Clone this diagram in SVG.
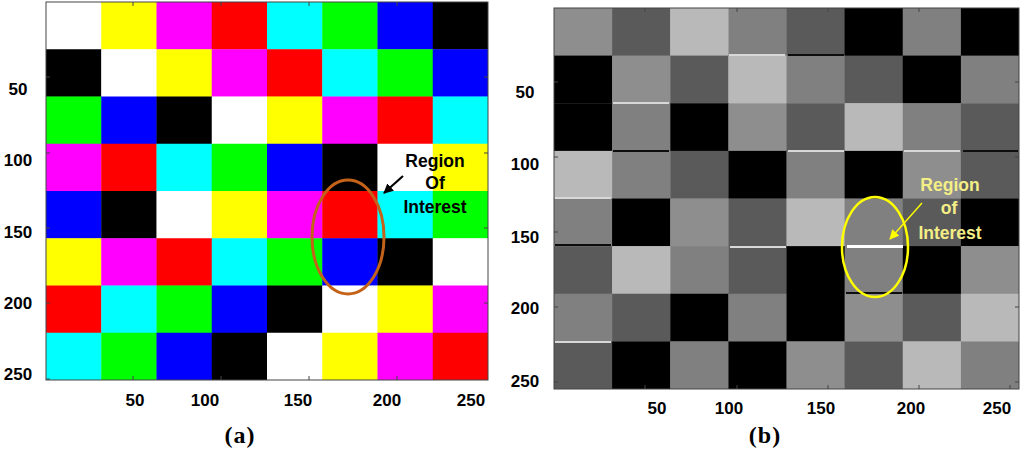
<svg xmlns="http://www.w3.org/2000/svg" width="1024" height="450" viewBox="0 0 1024 450">
<style>
.W{fill:#ffffff}.Y{fill:#ffff00}.M{fill:#ff00ff}.R{fill:#ff0000}.C{fill:#00ffff}.G{fill:#00ff00}.B{fill:#0000ff}.K{fill:#000000}
.gw{fill:#8e8e8e}.gy{fill:#5a5a5a}.gm{fill:#b9b9b9}.gr{fill:#808080}.gk{fill:#000000}
.ax{font-family:"Liberation Sans",Arial,sans-serif;font-weight:bold;font-size:17px;fill:#000;text-anchor:middle}
.cap{font-family:"Liberation Serif","Times New Roman",serif;font-weight:bold;font-size:24px;letter-spacing:1px;fill:#000;text-anchor:middle}
.roiA{font-family:"Liberation Sans",Arial,sans-serif;font-weight:bold;font-size:17.5px;fill:#000;text-anchor:middle}
.roiB{font-family:"Liberation Sans",Arial,sans-serif;font-weight:bold;font-size:17.5px;fill:#f3ee86;text-anchor:middle}
.frame{fill:none;stroke:#444;stroke-width:1}
.tick{stroke:#444;stroke-width:1;fill:none}
</style>
<defs>
<marker id="ahK" viewBox="0 0 10 10" refX="9" refY="5" markerWidth="4.5" markerHeight="4.5" orient="auto" markerUnits="strokeWidth"><path d="M0,0 L10,5 L0,10 z" fill="#000"/></marker>
<marker id="ahY" viewBox="0 0 10 10" refX="9" refY="5" markerWidth="7" markerHeight="7" orient="auto" markerUnits="strokeWidth"><path d="M0,0 L10,5 L0,10 z" fill="#ffff00"/></marker>
<filter id="soft" x="-1%" y="-1%" width="102%" height="102%"><feGaussianBlur stdDeviation="0.7"/></filter>
</defs>
<rect width="1024" height="450" fill="#fff"/>

<g id="panel-a">
<g id="grid-a">
<rect class="W" x="46" y="2" width="55.6" height="47.6"/><rect class="Y" x="101.25" y="2" width="55.6" height="47.6"/><rect class="M" x="156.5" y="2" width="55.6" height="47.6"/><rect class="R" x="211.75" y="2" width="55.6" height="47.6"/><rect class="C" x="267" y="2" width="55.6" height="47.6"/><rect class="G" x="322.25" y="2" width="55.6" height="47.6"/><rect class="B" x="377.5" y="2" width="55.6" height="47.6"/><rect class="K" x="432.75" y="2" width="55.25" height="47.6"/>
<rect class="K" x="46" y="49.25" width="55.6" height="47.6"/><rect class="W" x="101.25" y="49.25" width="55.6" height="47.6"/><rect class="Y" x="156.5" y="49.25" width="55.6" height="47.6"/><rect class="M" x="211.75" y="49.25" width="55.6" height="47.6"/><rect class="R" x="267" y="49.25" width="55.6" height="47.6"/><rect class="C" x="322.25" y="49.25" width="55.6" height="47.6"/><rect class="G" x="377.5" y="49.25" width="55.6" height="47.6"/><rect class="B" x="432.75" y="49.25" width="55.25" height="47.6"/>
<rect class="G" x="46" y="96.5" width="55.6" height="47.6"/><rect class="B" x="101.25" y="96.5" width="55.6" height="47.6"/><rect class="K" x="156.5" y="96.5" width="55.6" height="47.6"/><rect class="W" x="211.75" y="96.5" width="55.6" height="47.6"/><rect class="Y" x="267" y="96.5" width="55.6" height="47.6"/><rect class="M" x="322.25" y="96.5" width="55.6" height="47.6"/><rect class="R" x="377.5" y="96.5" width="55.6" height="47.6"/><rect class="C" x="432.75" y="96.5" width="55.25" height="47.6"/>
<rect class="M" x="46" y="143.75" width="55.6" height="47.6"/><rect class="R" x="101.25" y="143.75" width="55.6" height="47.6"/><rect class="C" x="156.5" y="143.75" width="55.6" height="47.6"/><rect class="G" x="211.75" y="143.75" width="55.6" height="47.6"/><rect class="B" x="267" y="143.75" width="55.6" height="47.6"/><rect class="K" x="322.25" y="143.75" width="55.6" height="47.6"/><rect class="W" x="377.5" y="143.75" width="55.6" height="47.6"/><rect class="Y" x="432.75" y="143.75" width="55.25" height="47.6"/>
<rect class="B" x="46" y="191" width="55.6" height="47.6"/><rect class="K" x="101.25" y="191" width="55.6" height="47.6"/><rect class="W" x="156.5" y="191" width="55.6" height="47.6"/><rect class="Y" x="211.75" y="191" width="55.6" height="47.6"/><rect class="M" x="267" y="191" width="55.6" height="47.6"/><rect class="R" x="322.25" y="191" width="55.6" height="47.6"/><rect class="C" x="377.5" y="191" width="55.6" height="47.6"/><rect class="G" x="432.75" y="191" width="55.25" height="47.6"/>
<rect class="Y" x="46" y="238.25" width="55.6" height="47.6"/><rect class="M" x="101.25" y="238.25" width="55.6" height="47.6"/><rect class="R" x="156.5" y="238.25" width="55.6" height="47.6"/><rect class="C" x="211.75" y="238.25" width="55.6" height="47.6"/><rect class="G" x="267" y="238.25" width="55.6" height="47.6"/><rect class="B" x="322.25" y="238.25" width="55.6" height="47.6"/><rect class="K" x="377.5" y="238.25" width="55.6" height="47.6"/><rect class="W" x="432.75" y="238.25" width="55.25" height="47.6"/>
<rect class="R" x="46" y="285.5" width="55.6" height="47.6"/><rect class="C" x="101.25" y="285.5" width="55.6" height="47.6"/><rect class="G" x="156.5" y="285.5" width="55.6" height="47.6"/><rect class="B" x="211.75" y="285.5" width="55.6" height="47.6"/><rect class="K" x="267" y="285.5" width="55.6" height="47.6"/><rect class="W" x="322.25" y="285.5" width="55.6" height="47.6"/><rect class="Y" x="377.5" y="285.5" width="55.6" height="47.6"/><rect class="M" x="432.75" y="285.5" width="55.25" height="47.6"/>
<rect class="C" x="46" y="332.75" width="55.6" height="47.25"/><rect class="G" x="101.25" y="332.75" width="55.6" height="47.25"/><rect class="B" x="156.5" y="332.75" width="55.6" height="47.25"/><rect class="K" x="211.75" y="332.75" width="55.6" height="47.25"/><rect class="W" x="267" y="332.75" width="55.6" height="47.25"/><rect class="Y" x="322.25" y="332.75" width="55.6" height="47.25"/><rect class="M" x="377.5" y="332.75" width="55.6" height="47.25"/><rect class="R" x="432.75" y="332.75" width="55.25" height="47.25"/>
</g>
<rect class="frame" x="46" y="2" width="442" height="378"/>
<path class="tick" d="M133,2v4M221,2v4M309,2v4M397,2v4M133,380v-4M221,380v-4M309,380v-4M397,380v-4M46,77h4M46,153h4M46,228h4M46,303h4M46,379h4M488,77h-4M488,153h-4M488,228h-4M488,303h-4"/>
<g id="axis-a">
<text class="ax" x="18" y="95">50</text>
<text class="ax" x="18" y="166">100</text>
<text class="ax" x="18" y="238">150</text>
<text class="ax" x="18" y="309">200</text>
<text class="ax" x="18" y="380">250</text>
<text class="ax" x="135" y="406">50</text>
<text class="ax" x="205" y="406">100</text>
<text class="ax" x="298" y="406">150</text>
<text class="ax" x="387" y="406">200</text>
<text class="ax" x="471" y="406">250</text>
</g>
<text class="cap" x="240" y="443">(a)</text>
</g>

<g id="roi-a">
<ellipse cx="348" cy="237" rx="36" ry="57" fill="none" stroke="#c4621a" stroke-width="3"/>
<text class="roiA" x="435" y="167">Region</text>
<text class="roiA" x="435" y="189">Of</text>
<text class="roiA" x="435" y="213">Interest</text>
</g>

<g id="panel-b">
<g id="grid-b" filter="url(#soft)">
<rect class="gw" x="554" y="8" width="58.5" height="48"/><rect class="gy" x="612.1" y="8" width="58.5" height="48"/><rect class="gm" x="670.25" y="8" width="58.5" height="48"/><rect class="gr" x="728.4" y="8" width="58.5" height="48"/><rect class="gy" x="786.5" y="8" width="58.5" height="48"/><rect class="gk" x="844.6" y="8" width="58.5" height="48"/><rect class="gr" x="902.75" y="8" width="58.5" height="48"/><rect class="gk" x="960.9" y="8" width="58.1" height="48"/>
<rect class="gk" x="554" y="55.6" width="58.5" height="48"/><rect class="gw" x="612.1" y="55.6" width="58.5" height="48"/><rect class="gy" x="670.25" y="55.6" width="58.5" height="48"/><rect class="gm" x="728.4" y="55.6" width="58.5" height="48"/><rect class="gr" x="786.5" y="55.6" width="58.5" height="48"/><rect class="gy" x="844.6" y="55.6" width="58.5" height="48"/><rect class="gk" x="902.75" y="55.6" width="58.5" height="48"/><rect class="gr" x="960.9" y="55.6" width="58.1" height="48"/>
<rect class="gk" x="554" y="103.25" width="58.5" height="48"/><rect class="gr" x="612.1" y="103.25" width="58.5" height="48"/><rect class="gk" x="670.25" y="103.25" width="58.5" height="48"/><rect class="gw" x="728.4" y="103.25" width="58.5" height="48"/><rect class="gy" x="786.5" y="103.25" width="58.5" height="48"/><rect class="gm" x="844.6" y="103.25" width="58.5" height="48"/><rect class="gr" x="902.75" y="103.25" width="58.5" height="48"/><rect class="gy" x="960.9" y="103.25" width="58.1" height="48"/>
<rect class="gm" x="554" y="150.9" width="58.5" height="48"/><rect class="gr" x="612.1" y="150.9" width="58.5" height="48"/><rect class="gy" x="670.25" y="150.9" width="58.5" height="48"/><rect class="gk" x="728.4" y="150.9" width="58.5" height="48"/><rect class="gr" x="786.5" y="150.9" width="58.5" height="48"/><rect class="gk" x="844.6" y="150.9" width="58.5" height="48"/><rect class="gw" x="902.75" y="150.9" width="58.5" height="48"/><rect class="gy" x="960.9" y="150.9" width="58.1" height="48"/>
<rect class="gr" x="554" y="198.5" width="58.5" height="48"/><rect class="gk" x="612.1" y="198.5" width="58.5" height="48"/><rect class="gw" x="670.25" y="198.5" width="58.5" height="48"/><rect class="gy" x="728.4" y="198.5" width="58.5" height="48"/><rect class="gm" x="786.5" y="198.5" width="58.5" height="48"/><rect class="gr" x="844.6" y="198.5" width="58.5" height="48"/><rect class="gy" x="902.75" y="198.5" width="58.5" height="48"/><rect class="gk" x="960.9" y="198.5" width="58.1" height="48"/>
<rect class="gy" x="554" y="246.1" width="58.5" height="48"/><rect class="gm" x="612.1" y="246.1" width="58.5" height="48"/><rect class="gr" x="670.25" y="246.1" width="58.5" height="48"/><rect class="gy" x="728.4" y="246.1" width="58.5" height="48"/><rect class="gk" x="786.5" y="246.1" width="58.5" height="48"/><rect class="gr" x="844.6" y="246.1" width="58.5" height="48"/><rect class="gk" x="902.75" y="246.1" width="58.5" height="48"/><rect class="gw" x="960.9" y="246.1" width="58.1" height="48"/>
<rect class="gr" x="554" y="293.75" width="58.5" height="48"/><rect class="gy" x="612.1" y="293.75" width="58.5" height="48"/><rect class="gk" x="670.25" y="293.75" width="58.5" height="48"/><rect class="gr" x="728.4" y="293.75" width="58.5" height="48"/><rect class="gk" x="786.5" y="293.75" width="58.5" height="48"/><rect class="gw" x="844.6" y="293.75" width="58.5" height="48"/><rect class="gy" x="902.75" y="293.75" width="58.5" height="48"/><rect class="gm" x="960.9" y="293.75" width="58.1" height="48"/>
<rect class="gy" x="554" y="341.4" width="58.5" height="47.6"/><rect class="gk" x="612.1" y="341.4" width="58.5" height="47.6"/><rect class="gr" x="670.25" y="341.4" width="58.5" height="47.6"/><rect class="gk" x="728.4" y="341.4" width="58.5" height="47.6"/><rect class="gw" x="786.5" y="341.4" width="58.5" height="47.6"/><rect class="gy" x="844.6" y="341.4" width="58.5" height="47.6"/><rect class="gm" x="902.75" y="341.4" width="58.5" height="47.6"/><rect class="gr" x="960.9" y="341.4" width="58.1" height="47.6"/>
<g fill="#d8d8d8">
<rect x="613" y="102" width="56" height="2"/>
<rect x="729" y="54" width="56" height="2"/>
<rect x="788" y="150" width="56" height="2"/>
<rect x="904" y="150" width="56" height="2"/>
<rect x="555" y="197" width="56" height="2"/>
<rect x="730" y="246" width="56" height="2"/>
<rect x="555" y="341" width="56" height="2"/>
</g>
<g fill="#111">
<rect x="788" y="54" width="56" height="2"/>
<rect x="613" y="150" width="56" height="2"/>
<rect x="555" y="244" width="56" height="2"/>
<rect x="963" y="150" width="55" height="2"/>
<rect x="846" y="292" width="56" height="2"/>
</g>
</g>
<rect x="847" y="245" width="56" height="3" fill="#ffffff"/>
<rect class="frame" x="554" y="8" width="465" height="381"/>
<path class="tick" d="M645,8v4M737,8v4M828,8v4M919,8v4M645,389v-4M737,389v-4M828,389v-4M919,389v-4M1010,389v-4M554,82h4M554,157h4M554,232h4M554,307h4M554,382h4M1019,82h-4M1019,157h-4M1019,307h-4M1019,382h-4"/>
<g id="axis-b">
<text class="ax" x="525" y="98">50</text>
<text class="ax" x="525" y="170">100</text>
<text class="ax" x="525" y="243">150</text>
<text class="ax" x="525" y="314">200</text>
<text class="ax" x="525" y="387">250</text>
<text class="ax" x="657" y="414">50</text>
<text class="ax" x="729" y="414">100</text>
<text class="ax" x="821" y="414">150</text>
<text class="ax" x="911" y="414">200</text>
<text class="ax" x="997" y="414">250</text>
</g>
<text class="cap" x="765" y="443">(b)</text>
</g>

<g id="roi-b">
<ellipse cx="875" cy="247" rx="33" ry="50" fill="none" stroke="#ffff00" stroke-width="2.5"/>
<text class="roiB" x="950" y="191">Region</text>
<text class="roiB" x="949" y="214">of</text>
<text class="roiB" x="950" y="239">Interest</text>
</g>

<g id="connectors">
<line x1="403" y1="176" x2="384" y2="193" stroke="#000" stroke-width="2.2" marker-end="url(#ahK)"/>
<line x1="922" y1="203" x2="890" y2="239" stroke="#ffff00" stroke-width="1.4" marker-end="url(#ahY)"/>
</g>
</svg>
